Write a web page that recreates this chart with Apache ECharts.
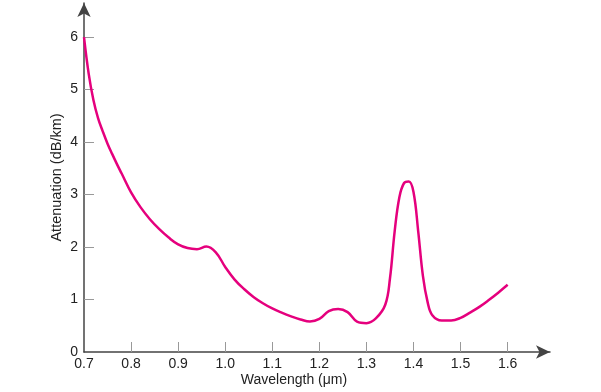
<!DOCTYPE html>
<html>
<head>
<meta charset="utf-8">
<script src="https://cdn.jsdelivr.net/npm/echarts@6/dist/echarts.min.js"></script>
<style>
  html, body { margin: 0; padding: 0; background: #fff; }
  #chart { width: 601px; height: 392px; }
</style>
</head>
<body>
<div id="chart"></div>
<script>
// wavelength in um, attenuation in dB/km
const wavelength = [
  0.70, 0.71, 0.72, 0.73, 0.74, 0.75, 0.76, 0.77, 0.78, 0.80,
  0.82, 0.84, 0.86, 0.88, 0.90, 0.92, 0.94, 0.96, 0.98, 1.00,
  1.02, 1.04, 1.06, 1.08, 1.10, 1.12, 1.14, 1.16, 1.18, 1.20,
  1.22, 1.24, 1.26, 1.28, 1.30, 1.32, 1.34, 1.35, 1.36, 1.37,
  1.38, 1.39, 1.40, 1.41, 1.42, 1.43, 1.44, 1.46, 1.48, 1.50,
  1.52, 1.54, 1.56, 1.58, 1.60
]
const attenuation = [
  6.0, 5.3, 4.8, 4.45, 4.2, 3.97, 3.77, 3.58, 3.4, 3.04,
  2.76, 2.53, 2.34, 2.18, 2.05, 1.98, 1.96, 2.01, 1.9, 1.62,
  1.38, 1.2, 1.05, 0.93, 0.83, 0.75, 0.68, 0.62, 0.58, 0.63,
  0.78, 0.82, 0.76, 0.58, 0.55, 0.64, 0.9, 1.4, 2.3, 2.95,
  3.22, 3.25, 3.05, 2.3, 1.45, 0.95, 0.7, 0.6, 0.6, 0.65,
  0.75, 0.86, 0.99, 1.13, 1.28
]
const xTickLabels = [0.7, 0.8, 0.9, 1.0, 1.1, 1.2, 1.3, 1.4, 1.5, 1.6]
const yTickLabels = [0, 1, 2, 3, 4, 5, 6]

const chart = echarts.init(document.getElementById('chart'))

const axisColor = '#444'
const tickColor = '#999'
const labelStyle = {
  fontFamily: 'Liberation Sans',
  fontSize: 14,
  color: '#222'
}

const option = {
  animation: false,
  grid: {
    left: 84,
    right: 51,
    top: 3,
    bottom: 40
  },
  xAxis: {
    type: 'value',
    min: 0.7,
    max: 1.69,
    name: 'Wavelength (\u03bcm)',
    nameLocation: 'middle',
    nameGap: 21,
    nameMoveOverlap: false,
    nameTextStyle: Object.assign({}, labelStyle, { padding: [0, 46, 0, 0] }),
    splitLine: { show: false },
    axisLine: {
      lineStyle: { color: axisColor, width: 1.5 },
      symbol: ['none', 'arrow'],
      symbolSize: [10, 14]
    },
    axisTick: {
      inside: true,
      length: 10,
      lineStyle: { color: tickColor },
      customValues: xTickLabels.slice(1)
    },
    axisLabel: Object.assign({}, labelStyle, {
      margin: 5,
      customValues: xTickLabels,
      formatter: v => v.toFixed(1)
    })
  },
  yAxis: {
    type: 'value',
    min: 0,
    max: 6.65,
    name: 'Attenuation (dB/km)',
    nameLocation: 'middle',
    nameGap: 20,
    nameMoveOverlap: false,
    nameTextStyle: Object.assign({}, labelStyle, { fontSize: 14.5 }),
    splitLine: { show: false },
    axisLine: {
      show: true,
      lineStyle: { color: axisColor, width: 1.5 },
      symbol: ['none', 'arrow'],
      symbolSize: [10, 14]
    },
    axisTick: {
      show: true,
      inside: true,
      length: 10,
      lineStyle: { color: tickColor },
      customValues: yTickLabels.slice(1)
    },
    axisLabel: Object.assign({}, labelStyle, {
      margin: 6,
      customValues: yTickLabels
    })
  },
  series: [{
    type: 'line',
    data: wavelength.map((w, i) => [w, attenuation[i]]),
    showSymbol: false,
    smooth: 0.4,
    lineStyle: { color: '#e5007d', width: 2.5 }
  }]
}

chart.setOption(option)
</script>
</body>
</html>
